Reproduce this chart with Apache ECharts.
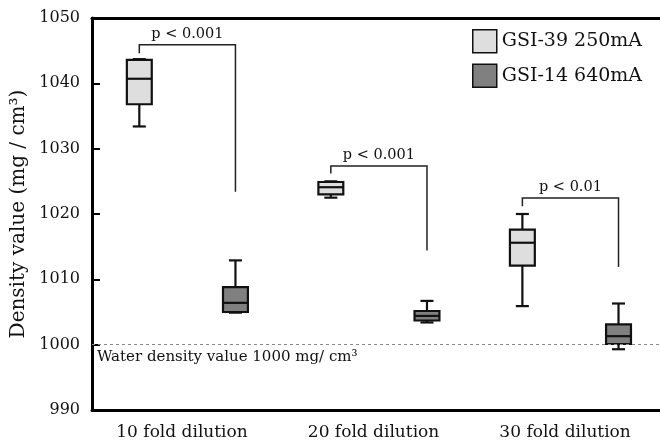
<!DOCTYPE html>
<html><head><meta charset="utf-8">
<script src="https://cdn.jsdelivr.net/npm/echarts@6/dist/echarts.min.js"></script>
<style>html,body{margin:0;padding:0;background:#fff}#c{width:660px;height:446px}</style>
</head><body><div id="c"></div>
<script>
const categories = ['10 fold dilution', '20 fold dilution', '30 fold dilution'];
const seriesNames = ['GSI-39 250mA', 'GSI-14 640mA'];
// [min, Q1, median, Q3, max]
const gsi39 = [
  [1033.4, 1036.8, 1040.7, 1043.6, 1043.7],
  [1022.5, 1023.0, 1024.1, 1024.9, 1025.0],
  [1005.9, 1012.1, 1015.6, 1017.6, 1020.0]
];
const gsi14 = [
  [1004.9, 1005.0, 1006.4, 1008.8, 1012.9],
  [1003.4, 1003.7, 1004.4, 1005.15, 1006.7],
  [999.3, 1000.1, 1001.3, 1003.1, 1006.3]
];
const pLabels = ['p < 0.001', 'p < 0.001', 'p < 0.01'];
const bracketTop = [1045.9, 1027.35, 1022.45];
const bracketLeftEnd = [1044.6, 1026.2, 1021.2];
const bracketRightEnd = [1023.4, 1014.4, 1011.9];
const waterDensity = 1000;
const waterLabel = 'Water density value 1000 mg/ cm³';
const yMin = 990, yMax = 1050, yStep = 10;

const FONT = '"DejaVu Serif", serif';
const INK = '#111';
const LIGHT_FILL = '#dedede', DARK_FILL = '#808080';
const LIGHT_OFF = -0.223, DARK_OFF = 0.279, BOX_W = 0.13, CAP_W = 0.068;

function boxRenderer(offset, fill) {
  return function (params, api) {
    const x = api.value(0) + offset;
    const vals = [1, 2, 3, 4, 5].map(i => api.value(i));
    const ys = vals.map(v => api.coord([x, v])[1]);
    const cx = api.coord([x, vals[0]])[0];
    const half = api.size([BOX_W, 0])[0] / 2;
    const capHalf = api.size([CAP_W, 0])[0] / 2;
    const ln = (x1, y1, x2, y2) => ({ type: 'line', shape: { x1, y1, x2, y2 }, style: { stroke: INK, lineWidth: 2.2 } });
    return {
      type: 'group',
      children: [
        ln(cx, ys[0], cx, ys[1]),
        ln(cx, ys[3], cx, ys[4]),
        ln(cx - capHalf, ys[0], cx + capHalf, ys[0]),
        ln(cx - capHalf, ys[4], cx + capHalf, ys[4]),
        { type: 'rect', shape: { x: cx - half, y: ys[3], width: 2 * half, height: ys[1] - ys[3] }, style: { fill: fill, stroke: INK, lineWidth: 2.2 } },
        ln(cx - half, ys[2], cx + half, ys[2])
      ]
    };
  };
}

function bracketRenderer(params, api) {
  const c = api.value(0);
  const xl = api.coord([c + LIGHT_OFF, 0])[0];
  const xr = api.coord([c + DARK_OFF, 0])[0];
  const yt = api.coord([c, api.value(1)])[1];
  const yl = api.coord([c, api.value(2)])[1];
  const yr = api.coord([c, api.value(3)])[1];
  return {
    type: 'group',
    children: [
      { type: 'polyline', shape: { points: [[xl, yl], [xl, yt], [xr, yt], [xr, yr]] }, style: { stroke: '#222', lineWidth: 1.5, fill: null } },
      { type: 'text', x: (xl + xr) / 2, y: yt - 11, style: { text: pLabels[params.dataIndex], fontFamily: FONT, fontSize: 14.5, fill: INK, align: 'center', verticalAlign: 'middle' } }
    ]
  };
}

const chart = echarts.init(document.getElementById('c'), null, { renderer: 'canvas' });
const xCommon = { type: 'value', min: 0.53, max: 3.6, splitLine: { show: false }, axisTick: { show: false } };
chart.setOption({
  animation: false,
  backgroundColor: '#fff',
  grid: { left: 92, right: -20, top: 18, bottom: 36, containLabel: false, outerBoundsMode: 'none' },
  legend: {
    orient: 'vertical', left: 467, top: 24, itemWidth: 24, itemHeight: 23, itemGap: 10,
    icon: 'rect', textStyle: { fontFamily: FONT, fontSize: 19, color: INK },
    data: [
      { name: seriesNames[0], itemStyle: { color: LIGHT_FILL, borderColor: INK, borderWidth: 1.5 } },
      { name: seriesNames[1], itemStyle: { color: DARK_FILL, borderColor: INK, borderWidth: 1.5 } }
    ]
  },
  xAxis: [
    Object.assign({}, xCommon, {
      position: 'bottom',
      axisLine: { show: true, onZero: false, lineStyle: { color: '#000', width: 3 } },
      axisLabel: { customValues: [1, 2, 3], formatter: v => categories[Math.round(v) - 1] || '', fontFamily: FONT, fontSize: 17, color: INK, margin: 14 }
    }),
    Object.assign({}, xCommon, {
      position: 'top',
      axisLine: { show: true, onZero: false, lineStyle: { color: '#000', width: 3 } },
      axisLabel: { show: false }
    })
  ],
  yAxis: {
    type: 'value', min: yMin, max: yMax, interval: yStep,
    axisLine: { show: true, lineStyle: { color: '#000', width: 3 } },
    axisTick: { show: true, inside: true, length: 8, lineStyle: { color: '#000', width: 2 } },
    splitLine: { show: false },
    axisLabel: { fontFamily: FONT, fontSize: 16, color: INK, margin: 12, formatter: v => String(v) },
    name: 'Density value (mg / cm³)', nameLocation: 'middle', nameGap: 46,
    nameTextStyle: { fontFamily: FONT, fontSize: 20, color: INK }
  },
  series: [
    {
      name: seriesNames[0], type: 'custom', renderItem: boxRenderer(LIGHT_OFF, LIGHT_FILL),
      itemStyle: { color: LIGHT_FILL, borderColor: INK, borderWidth: 1.5 },
      encode: { x: 0, y: [1, 2, 3, 4, 5] },
      data: categories.map((c, i) => [i + 1].concat(gsi39[i]))
    },
    {
      name: seriesNames[1], type: 'custom', renderItem: boxRenderer(DARK_OFF, DARK_FILL),
      itemStyle: { color: DARK_FILL, borderColor: INK, borderWidth: 1.5 },
      encode: { x: 0, y: [1, 2, 3, 4, 5] },
      data: categories.map((c, i) => [i + 1].concat(gsi14[i]))
    },
    {
      name: 'brackets', type: 'custom', renderItem: bracketRenderer, silent: true,
      encode: { x: 0, y: [1, 2, 3] },
      data: categories.map((c, i) => [i + 1, bracketTop[i], bracketLeftEnd[i], bracketRightEnd[i]])
    },
    {
      name: 'water', type: 'line', data: [],
      markLine: {
        silent: true, symbol: ['none', 'none'],
        lineStyle: { color: '#888', type: [3, 3], width: 1 },
        label: { show: true, position: 'insideStartBottom', formatter: waterLabel, fontFamily: FONT, fontSize: 15, color: INK },
        data: [{ yAxis: waterDensity }]
      }
    }
  ]
});
</script>
</body></html>
